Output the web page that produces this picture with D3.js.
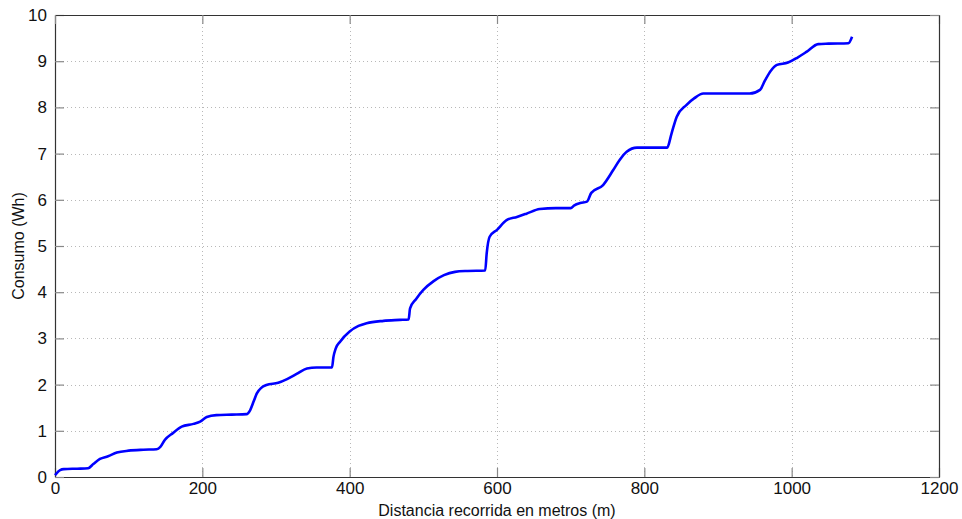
<!DOCTYPE html>
<html>
<head>
<meta charset="utf-8">
<script src="https://cdn.jsdelivr.net/npm/d3@7"></script>
<style>
  body { margin: 0; background: #fff; }
  text { font-family: "Liberation Sans", Arial, sans-serif; }
</style>
</head>
<body>
<div id="chart"></div>
<script>
// distance travelled (m) and consumption (Wh)
const distancia = [0, 7, 12, 30, 45, 52, 61, 72, 84, 100, 120, 138, 143, 149, 160, 172, 188, 197, 206, 219, 240, 260,
  265, 270, 274, 280, 287, 303, 315, 328, 342, 355, 376, 378, 381, 387, 400, 412, 423, 446, 468, 480,
  482, 490, 500, 514, 528, 543, 560, 584, 586, 590, 600, 613, 627, 640, 658, 680, 700, 705, 713, 722,
  728, 744, 758, 766, 776, 790, 810, 831, 837, 844, 857, 868, 880, 900, 943, 957, 964, 972, 980, 995,
  1008, 1020, 1036, 1050, 1077, 1082];
const consumo = [0.04, 0.15, 0.17, 0.18, 0.19, 0.28, 0.39, 0.45, 0.53, 0.57, 0.59, 0.6, 0.65, 0.8, 0.95, 1.09, 1.15, 1.2, 1.3, 1.34, 1.35, 1.36,
  1.45, 1.65, 1.81, 1.93, 1.99, 2.04, 2.12, 2.23, 2.35, 2.37, 2.37, 2.6, 2.78, 2.93, 3.15, 3.27, 3.33, 3.38, 3.4, 3.41,
  3.65, 3.85, 4.05, 4.24, 4.37, 4.44, 4.46, 4.47, 4.84, 5.2, 5.35, 5.56, 5.63, 5.7, 5.8, 5.82, 5.82, 5.88, 5.93, 5.96,
  6.15, 6.32, 6.65, 6.85, 7.04, 7.13, 7.13, 7.13, 7.44, 7.8, 8.05, 8.2, 8.3, 8.3, 8.3, 8.38, 8.59, 8.8, 8.92, 8.97,
  9.08, 9.2, 9.37, 9.38, 9.39, 9.53];
const xTicks = [0, 200, 400, 600, 800, 1000, 1200];
const yTicks = [0, 1, 2, 3, 4, 5, 6, 7, 8, 9, 10];

const width = 962, height = 519;
const margin = { left: 55, right: 23, top: 15, bottom: 42 };

const svg = d3.select('#chart')
  .append('svg')
  .attr('width', width)
  .attr('height', height);

const x = d3.scaleLinear().domain([0, 1200]).range([margin.left, width - margin.right]);
const y = d3.scaleLinear().domain([0, 10]).range([height - margin.bottom, margin.top]);

const x0 = margin.left, x1 = width - margin.right;
const y0 = height - margin.bottom, y1 = margin.top;

// grid
const grid = svg.append('g')
  .attr('stroke', '#b8b8b8')
  .attr('stroke-width', 1)
  .attr('stroke-dasharray', '1,3');
grid.selectAll('.gx').data(xTicks.slice(1, -1)).enter().append('line')
  .attr('x1', d => Math.round(x(d)) + 0.5).attr('x2', d => Math.round(x(d)) + 0.5)
  .attr('y1', y1).attr('y2', y0);
grid.selectAll('.gy').data(yTicks.slice(1, -1)).enter().append('line')
  .attr('y1', d => Math.round(y(d)) + 0.5).attr('y2', d => Math.round(y(d)) + 0.5)
  .attr('x1', x0).attr('x2', x1);

// axes (matlab style: inner ticks on all four sides)
const fmt = d3.format('d');
const axisX = svg.append('g').attr('transform', 'translate(0,' + y0 + ')')
  .call(d3.axisBottom(x).tickValues(xTicks).tickFormat(fmt).tickSizeInner(-9).tickSizeOuter(0).tickPadding(5));
const axisY = svg.append('g').attr('transform', 'translate(' + x0 + ',0)')
  .call(d3.axisLeft(y).tickValues(yTicks).tickFormat(fmt).tickSizeInner(-9).tickSizeOuter(0).tickPadding(8));
const axisTop = svg.append('g').attr('transform', 'translate(0,' + y1 + ')')
  .call(d3.axisTop(x).tickValues(xTicks).tickSizeInner(-9).tickSizeOuter(0).tickFormat(''));
const axisRight = svg.append('g').attr('transform', 'translate(' + x1 + ',0)')
  .call(d3.axisRight(y).tickValues(yTicks).tickSizeInner(-9).tickSizeOuter(0).tickFormat(''));

[axisX, axisY, axisTop, axisRight].forEach(a => {
  a.select('.domain').attr('stroke', '#333').attr('stroke-width', 1.2);
  a.selectAll('.tick line').attr('stroke', '#888').attr('stroke-width', 1.2);
  a.selectAll('.tick text').attr('font-size', 17).attr('fill', '#111')
    .attr('font-family', '"Liberation Sans", Arial, sans-serif');
});

// curve
const pts = distancia.map((d, i) => [d, consumo[i]]);
const line = d3.line()
  .curve(d3.curveMonotoneX)
  .x(d => x(d[0]))
  .y(d => y(d[1]));

svg.append('path')
  .attr('d', line(pts))
  .attr('fill', 'none')
  .attr('stroke', '#0000ff')
  .attr('stroke-width', 2.6)
  .attr('stroke-linejoin', 'round');

// labels
svg.append('text')
  .attr('x', (x0 + x1) / 2)
  .attr('y', 516)
  .attr('text-anchor', 'middle')
  .attr('font-size', 16)
  .attr('fill', '#111')
  .text('Distancia recorrida en metros (m)');

svg.append('text')
  .attr('transform', 'translate(24,' + ((y0 + y1) / 2) + ') rotate(-90)')
  .attr('text-anchor', 'middle')
  .attr('font-size', 16)
  .attr('fill', '#111')
  .text('Consumo (Wh)');
</script>
</body>
</html>
